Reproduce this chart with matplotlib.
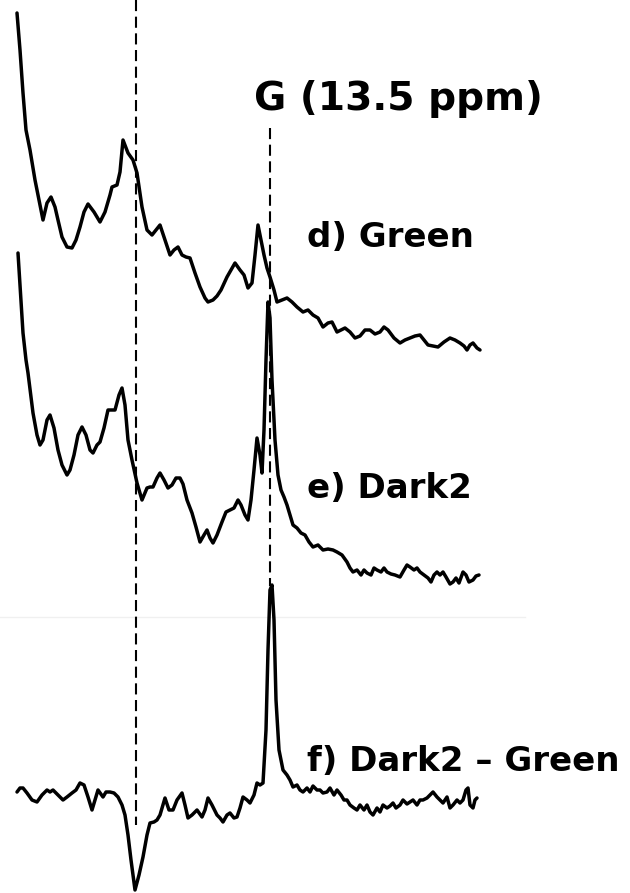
import matplotlib
matplotlib.use("Agg")
import matplotlib.pyplot as plt

# Traces: (shift position, displayed level) pairs
green_d = [(17,13),(20,50),(23,93),(26,130),(30,150),(35,180),(40,205),(43,220),(47,203),(51,197),
           (55,207),(58,220),(62,237),(67,247),(72,248),(76,240),(80,227),(84,212),(88,204),(94,212),
           (100,222),(105,212),(110,195),(112,187),(117,185),(120,172),(123,140),(128,153),(133,160),(137,173),
           (142,207),(147,230),(152,235),(156,230),(160,225),(165,240),(170,255),(174,250),(178,247),(182,255),
           (186,257),(190,258),(195,273),(200,287),(205,298),(208,302),(213,300),(217,296),(221,290),(227,277),
           (231,270),(235,263),(240,270),(244,275),(248,288),(252,283),(255,255),(258,225),(261,240),(264,255),
           (267,268),(270,277),(274,290),(277,302),(282,300),(287,298),(292,302),(297,307),(303,312),(308,310),
           (313,315),(318,318),(323,327),(328,323),(332,322),(337,332),(341,330),(345,328),(350,332),(355,338),
           (360,336),(365,330),(370,330),(375,334),(380,332),(384,327),(388,330),(394,338),(400,343),(405,340),
           (410,338),(415,336),(420,335),(424,340),(428,345),(433,346),(438,347),(444,342),(450,338),(455,340),
           (460,343),(464,346),(467,350),(470,345),(473,343),(477,348),(480,350)]

dark2_e = [(18,253),(21,300),(23,333),(26,360),(28,373),(33,413),(37,435),(40,445),(43,440),(47,420),
           (50,415),(54,428),(58,450),(62,465),(67,475),(70,470),(74,455),(78,435),(82,427),(86,435),
           (90,450),(93,453),(97,445),(100,442),(104,428),(108,410),(112,410),(115,410),(119,395),(122,388),
           (125,405),(128,440),(132,460),(137,483),(142,500),(147,488),(150,487),(153,487),(157,478),(160,473),
           (164,480),(168,488),(172,485),(176,478),(180,478),(183,484),(187,500),(192,513),(196,527),(200,542),
           (204,535),(207,530),(210,538),(213,543),(217,535),(222,522),(226,512),(230,510),(234,508),(238,500),
           (241,505),(245,515),(248,520),(251,500),(254,470),(257,438),(260,455),(262,473),(264,430),(266,360),
           (268,302),(270,318),(272,380),(275,440),(278,475),(281,490),(284,497),(287,505),(290,515),(293,525),
           (297,528),(301,533),(305,535),(309,542),(313,547),(318,545),(323,550),(328,549),(333,550),(337,552),
           (342,555),(347,562),(350,568),(353,572),(357,570),(361,575),(364,570),(367,573),(371,575),(374,568),
           (377,570),(381,572),(384,568),(387,572),(391,574),(395,575),(400,577),(404,570),(407,565),(410,567),
           (414,570),(417,568),(420,572),(424,575),(428,578),(431,582),(434,575),(437,572),(440,575),(443,572),
           (446,577),(450,584),(453,582),(456,578),(459,583),(463,572),(466,575),(469,582),(473,580),(476,576),
           (479,575)]

diff_f = [(17,792),(20,788),(23,788),(27,793),(32,800),(37,802),(42,795),(47,790),(50,792),(53,790),
          (58,795),(63,800),(67,797),(72,793),(76,790),(80,783),(84,785),(88,797),(92,810),(95,800),
          (98,790),(103,797),(106,792),(110,792),(114,793),(118,797),(122,805),(125,815),(128,835),(131,860),
          (135,890),(139,875),(143,857),(147,835),(150,823),(154,822),(157,820),(160,815),(165,798),(169,810),
          (173,810),(177,800),(182,793),(185,805),(188,818),(192,815),(197,810),(202,817),(205,810),(208,798),
          (212,805),(217,815),(220,818),(223,822),(227,815),(230,813),(234,818),(237,817),(240,808),(243,797),
          (247,800),(250,803),(254,795),(257,783),(260,785),(263,783),(266,730),(268,650),(270,590),(272,585),
          (274,620),(276,700),(279,750),(283,770),(287,775),(290,780),(293,787),(297,785),(300,790),(303,792),
          (307,788),(310,792),(313,786),(317,790),(320,790),(323,793),(327,792),(330,788),(334,795),(337,790),
          (341,795),(344,800),(347,800),(350,805),(354,808),(357,810),(360,805),(364,810),(367,805),(370,812),
          (373,815),(377,808),(380,812),(383,805),(387,808),(390,806),(393,803),(396,808),(400,805),(403,800),
          (407,804),(410,802),(413,800),(417,805),(420,800),(423,800),(427,798),(430,795),(433,792),(437,797),
          (440,800),(443,803),(447,797),(450,808),(453,805),(457,800),(460,803),(463,800),(466,790),(468,788),
          (470,805),(473,808),(475,800),(477,798)]

trace_labels = ["d) Green", "e) Dark2", "f) Dark2 \u2013 Green"]
peak_label = "G (13.5 ppm)"
marker_positions = [136, 270]
marker_spans = [(0, 825), (128, 586)]

plt.rcParams['font.family'] = ['DejaVu Sans']
plt.rcParams['lines.scale_dashes'] = False

fig = plt.figure(figsize=(6.3, 8.93), dpi=100)
ax = fig.add_axes([0, 0, 1, 1])
ax.set_xlim(0, 630)
ax.set_ylim(893, 0)
ax.axis('off')

# faint strip edge
ax.plot([0, 525], [617, 617], color='#f0f0f0', lw=1.0)

for (xp, (y0, y1)) in zip(marker_positions, marker_spans):
    ax.plot([xp, xp], [y0, y1], color='black', lw=1.5, dashes=(8, 4))

for tr in (green_d, dark2_e, diff_f):
    xs = [p[0] for p in tr]
    ys = [p[1] for p in tr]
    ax.plot(xs, ys, color='black', lw=2.5, solid_joinstyle='round', solid_capstyle='round')

ax.text(254, 110, peak_label, fontsize=28.3, fontweight='bold', va='baseline', ha='left')
for lab, yb in zip(trace_labels, [247, 498, 771]):
    ax.text(307, yb, lab, fontsize=24.5, fontweight='bold', va='baseline', ha='left')

fig.savefig('out.png', dpi=100)
